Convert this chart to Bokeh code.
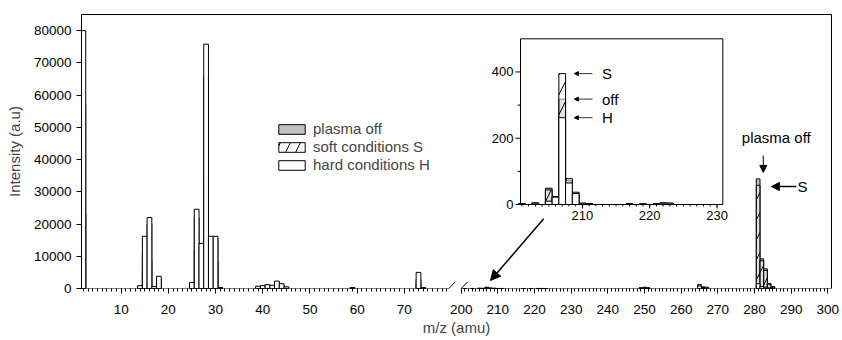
import numpy as np
from bokeh.plotting import figure
from bokeh.models import (Range1d, LinearAxis, FixedTicker, CustomJSTickFormatter, Arrow,
                          NormalHead, Legend, LegendItem, ColumnDataSource, BasicTickFormatter)
from bokeh.core.properties import value
from bokeh.embed import file_html
from bokeh.resources import INLINE

# ---------------- data ----------------
left_mz   = [2, 14, 15, 16, 17, 18, 25, 26, 27, 28, 29, 30, 31,
             39, 40, 41, 42, 43, 44, 45, 59, 73, 74]
left_off  = [23000, 300, 5000, 9000, 200, 2500, 800, 12000, 6000, 34500, 5000, 8000, 100,
             300, 400, 500, 400, 1000, 600, 200, 100, 1500, 100]
left_soft = [57000, 600, 10700, 20000, 400, 3000, 1500, 22000, 12000, 66000, 15000, 15500, 200,
             500, 700, 900, 800, 1900, 1200, 400, 200, 2800, 200]
left_hard = [80000, 900, 16200, 22000, 600, 3800, 1900, 24600, 14000, 75800, 16200, 16200, 300,
             700, 900, 1200, 1000, 2300, 1500, 500, 300, 5000, 300]

right_mz   = [201, 203, 205, 206, 207, 208, 209, 210, 211, 217, 219, 221, 222, 223,
              249, 250, 251, 265, 266, 267, 281, 282, 283, 284, 285]
right_off  = [2, 3, 49, 18, 318, 72, 30, 4, 3, 2, 2, 3, 4, 3,
              150, 300, 150, 300, 200, 150, 34000, 9200, 6100, 1500, 600]
right_soft = [3, 5, 44, 24, 395, 78, 37, 3, 2, 2, 1, 2, 5, 4,
              200, 400, 200, 1200, 500, 400, 32000, 8600, 5600, 1300, 500]
right_hard = [2, 4, 10, 22, 262, 65, 33, 4, 3, 1, 2, 2, 4, 4,
              100, 200, 100, 800, 300, 200, 1500, 600, 400, 200, 100]

series_names = ["plasma off", "soft conditions S", "hard conditions H"]

x_ticks_left = [10, 20, 30, 40, 50, 60, 70]
x_ticks_right = [200, 210, 220, 230, 240, 250, 260, 270, 280, 290, 300]
y_ticks = [0, 10000, 20000, 30000, 40000, 50000, 60000, 70000, 80000]
inset_x_ticks = [210, 220, 230]
inset_y_ticks = [0, 200, 400]
inset_y_minor = [100, 300]

FONT = "Liberation Sans"

# ---------------- geometry ----------------
W, H = 842, 340
BL, BR, BT, BB = 81, 11, 14, 52
FW = W - BL - BR          # frame width  (px)
FH = H - BT - BB          # frame height (px)

L_PX = 4.72               # px per m/z unit, left part
L0, L_END = 1.6, 79.45    # left part extent
R_PX = 3.666              # px per m/z unit, right part
R_AT, R_AT_PX = 200.0, 379.7
R_END = R_AT + (FW - R_AT_PX) / R_PX
Y_MAX = 85000

main_x = Range1d(L0, L0 + FW / L_PX)
right_x = Range1d(R_AT - R_AT_PX / R_PX, R_END)
K = R_PX / L_PX


def u_of(m):
    return L0 + (m - right_x.start) * K


# inset box: px relative to frame (left, right, top, bottom) and data extents
IN_L, IN_R, IN_T, IN_B = 439.0, 641.3, 24.3, 190.0
INSET_X = (200.8, 230.86)
INSET_Y = (0, 500)
ippx = (IN_R - IN_L) / (INSET_X[1] - INSET_X[0])
ippy = (IN_B - IN_T) / (INSET_Y[1] - INSET_Y[0])
inset_x = Range1d(INSET_X[0] - IN_L / ippx, INSET_X[0] + (FW - IN_L) / ippx)
inset_y = Range1d(INSET_Y[0] - (FH - IN_B) / ippy, INSET_Y[1] + IN_T / ippy)

p = figure(width=W, height=H, x_range=main_x, y_range=Range1d(0, Y_MAX),
           output_backend="svg", toolbar_location=None,
           min_border_left=BL, min_border_right=BR, min_border_top=BT, min_border_bottom=BB,
           outline_line_color=None, background_fill_color="white")
p.extra_x_ranges = {"right": right_x, "inset": inset_x}
p.extra_y_ranges = {"inset": inset_y}
p.xgrid.visible = False
p.ygrid.visible = False

# ---- axes ----
xa = p.xaxis[0]
xa.ticker = FixedTicker(ticks=x_ticks_left + [u_of(m) for m in x_ticks_right],
                        minor_ticks=list(range(2, 80)) + [u_of(m) for m in range(200, 301)])
xa.formatter = CustomJSTickFormatter(args=dict(l0=L0, r0=right_x.start, k=K, brk=L_END), code="""
    if (tick <= brk + 1) { return Math.round(tick).toString(); }
    return Math.round(r0 + (tick - l0) / k).toString();
""")
xa.axis_line_color = None
xa.major_tick_out = 5
xa.major_tick_in = 0
xa.minor_tick_out = 3
xa.minor_tick_in = 0
xa.major_label_standoff = 11
xa.axis_label = "m/z (amu)"
xa.axis_label_standoff = 2

ya = p.yaxis[0]
ya.ticker = FixedTicker(ticks=y_ticks, minor_ticks=[])
ya.formatter = BasicTickFormatter(use_scientific=False)
ya.major_tick_out = 5
ya.major_tick_in = 0
ya.major_label_standoff = 5
ya.axis_label = "Intensity (a.u)"
ya.axis_label_standoff = 8

for ax in (xa, ya):
    ax.major_label_text_font = FONT
    ax.major_label_text_font_size = "13.5px"
    ax.major_label_text_color = "black"
    ax.axis_label_text_font = FONT
    ax.axis_label_text_font_size = "15px"
    ax.axis_label_text_font_style = "normal"
    ax.major_tick_line_color = "black"
    ax.minor_tick_line_color = "black"

for place in ("above", "right"):
    border = LinearAxis(ticker=FixedTicker(ticks=[]), major_label_text_font_size="0px",
                        major_tick_line_color=None, minor_tick_line_color=None,
                        major_label_standoff=0, axis_line_color="black")
    p.add_layout(border, place)

# broken bottom axis line + break marks
p.add_layout(Arrow(start=None, end=None, x_start=L0, y_start=0, x_end=L_END, y_end=0,
                   line_color="black", line_width=1))
p.add_layout(Arrow(start=None, end=None, x_start=R_AT, y_start=0, x_end=R_END, y_end=0,
                   x_range_name="right", line_color="black", line_width=1))
dy = 6.7 * Y_MAX / FH
p.add_layout(Arrow(start=None, end=None, x_start=L_END - 6.3 / L_PX, y_start=-dy,
                   x_end=L_END + 6.3 / L_PX, y_end=dy, line_color="black", line_width=1))
p.add_layout(Arrow(start=None, end=None, x_start=R_AT - 6.6 / R_PX, y_start=-dy,
                   x_end=R_AT + 6.6 / R_PX, y_end=dy, x_range_name="right",
                   line_color="black", line_width=1))

# ---- inset frame ----
p.quad(left=[INSET_X[0]], right=[INSET_X[1]], bottom=[INSET_Y[0]], top=[INSET_Y[1]],
       fill_color="white", line_color="black", line_width=1,
       x_range_name="inset", y_range_name="inset")

# ---- bars ----
rmz = np.array(right_mz)
sel = (rmz >= INSET_X[0]) & (rmz <= INSET_X[1])
src_left = ColumnDataSource(dict(mz=left_mz, off=left_off, soft=left_soft, hard=left_hard))
src_right = ColumnDataSource(dict(mz=right_mz, off=right_off, soft=right_soft, hard=right_hard))
src_inset = ColumnDataSource(dict(mz=list(rmz[sel]), off=list(np.array(right_off)[sel]),
                                  soft=list(np.array(right_soft)[sel]),
                                  hard=list(np.array(right_hard)[sel])))
styles = {
    "off": dict(fill_color="#c2c2c2", line_color="black"),
    "soft": dict(fill_color="white", fill_alpha=0.5, hatch_pattern="/", hatch_color="black",
                 hatch_scale=20, hatch_weight=1, line_color="black"),
    "hard": dict(fill_color="white", line_color="black"),
}
legend_renderers = {}
for key in ("off", "soft", "hard"):
    r = p.vbar(x="mz", top=key, bottom=0, width=1.0, source=src_left, line_width=1, **styles[key])
    legend_renderers[key] = r
    p.vbar(x="mz", top=key, bottom=0, width=1.0, source=src_right, line_width=1,
           x_range_name="right", **styles[key])
    p.vbar(x="mz", top=key, bottom=0, width=1.0, source=src_inset, line_width=1,
           x_range_name="inset", y_range_name="inset", **styles[key])

# ---- inset ticks & labels ----
tk = dict(x_range_name="inset", y_range_name="inset", line_color="black", line_width=1)
p.segment(x0=inset_x_ticks, x1=inset_x_ticks, y0=0, y1=-4 / ippy, **tk)
minor_x = list(range(201, 231))
p.segment(x0=minor_x, x1=minor_x, y0=0, y1=-2 / ippy, **tk)
p.segment(x0=INSET_X[0], x1=INSET_X[0] - 5 / ippx, y0=inset_y_ticks, y1=inset_y_ticks, **tk)
p.segment(x0=INSET_X[0], x1=INSET_X[0] - 3 / ippx, y0=inset_y_minor, y1=inset_y_minor, **tk)
p.text(x=inset_x_ticks, y=0, text=[str(t) for t in inset_x_ticks], x_range_name="inset",
       y_range_name="inset", text_align="center", text_baseline="top", y_offset=6,
       text_font=value(FONT), text_font_size=value("13px"), text_color="black")
p.text(x=INSET_X[0], y=inset_y_ticks, text=[str(t) for t in inset_y_ticks], x_range_name="inset",
       y_range_name="inset", text_align="right", text_baseline="middle", x_offset=-7,
       text_font=value(FONT), text_font_size=value("13px"), text_color="black")

# ---- annotations ----
i207 = right_mz.index(207)
ann_y = [right_soft[i207], right_off[i207], right_hard[i207]]
p.text(x=212.9, y=ann_y, text=["S", "off", "H"], x_range_name="inset", y_range_name="inset",
       text_align="left", text_baseline="middle", text_font=value(FONT),
       text_font_size=value("15px"), text_color="black")
arr_src = ColumnDataSource(dict(x0=[211.5] * 3, x1=[208.8] * 3, y=ann_y))
p.add_layout(Arrow(x_start="x0", y_start="y", x_end="x1", y_end="y", source=arr_src,
                   x_range_name="inset", y_range_name="inset", line_width=0.8,
                   end=NormalHead(size=4, fill_color="black", line_color="black")))

p.text(x=[285.95], y=[46690], text=["plasma off"], x_range_name="right", text_align="center",
       text_baseline="middle", text_font=value(FONT), text_font_size=value("15px"),
       text_color="black")
p.add_layout(Arrow(x_start=282.4, y_start=41260, x_end=282.4, y_end=36000, x_range_name="right",
                   line_width=1, end=NormalHead(size=7, fill_color="black", line_color="black")))
p.text(x=[291.75], y=[31640], text=["S"], x_range_name="right", text_align="left",
       text_baseline="middle", text_font=value(FONT), text_font_size=value("15px"),
       text_color="black")
p.add_layout(Arrow(x_start=291.4, y_start=31640, x_end=284.6, y_end=31640, x_range_name="right",
                   line_width=1.5, end=NormalHead(size=8, fill_color="black", line_color="black")))
p.add_layout(Arrow(x_start=222.5, y_start=21620, x_end=208.0, y_end=2480, x_range_name="right",
                   line_width=1.5, end=NormalHead(size=10, fill_color="black", line_color="black")))

# ---- legend ----
legend = Legend(items=[LegendItem(label=series_names[0], renderers=[legend_renderers["off"]]),
                       LegendItem(label=series_names[1], renderers=[legend_renderers["soft"]]),
                       LegendItem(label=series_names[2], renderers=[legend_renderers["hard"]])],
                location=(194, 115), padding=0, margin=0, spacing=1,
                glyph_width=33, glyph_height=12, label_height=12, label_standoff=5,
                label_text_font=FONT, label_text_font_size="15px",
                border_line_color=None, background_fill_alpha=0)
p.add_layout(legend)

open("out.html", "w").write(file_html(p, INLINE))
